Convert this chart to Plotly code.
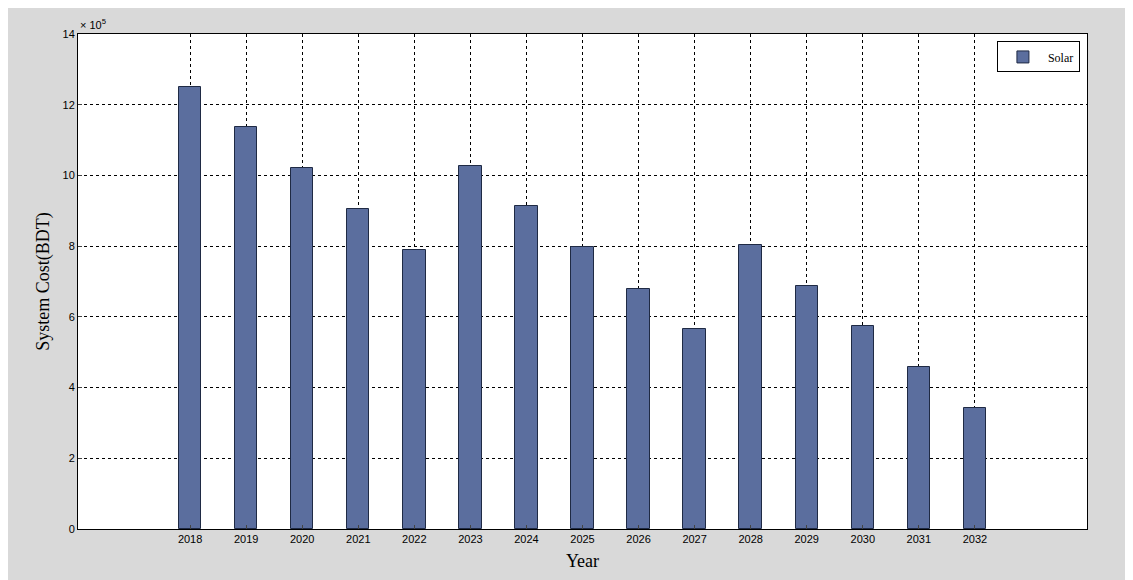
import plotly.graph_objects as go

years = list(range(2018, 2033))
solar_cost = [12.5, 11.37, 10.2, 9.05, 7.9, 10.28, 9.13, 7.98, 6.8, 5.65, 8.03, 6.88, 5.73, 4.58, 3.41]  # x 10^5 BDT

fig = go.Figure()
fig.add_trace(go.Bar(x=years, y=[v * 1e5 for v in solar_cost], name='Solar', width=0.4,
                     marker=dict(color='#5b6e9e', line=dict(color='#1f2a44', width=1))))

fig.update_layout(
    width=1133, height=580,
    paper_bgcolor='#d9d9d9', plot_bgcolor='white',
    margin=dict(l=70, r=54, t=26, b=59),
    font=dict(family='Liberation Sans, Arial', size=11, color='black'),
    showlegend=True,
    legend=dict(x=0.993, y=0.985, xanchor='right', yanchor='top', bgcolor='white',
                bordercolor='black', borderwidth=1, font=dict(family='Liberation Serif', size=12),
                itemwidth=40),
    bargap=0,
)
fig.update_xaxes(range=[2016, 2034], tickmode='array', tickvals=years, ticktext=[str(y) for y in years],
                 showgrid=True, gridcolor='black', griddash='dot', gridwidth=1,
                 showline=True, linecolor='black', mirror=True, ticks='inside', ticklen=4,
                 title=dict(text='Year', font=dict(family='Liberation Serif', size=18), standoff=10))
fig.update_yaxes(range=[0, 14e5], tickvals=[i * 2e5 for i in range(8)], ticktext=[str(i * 2) for i in range(8)],
                 showgrid=True, gridcolor='black', griddash='dot', gridwidth=1, zeroline=False,
                 showline=True, linecolor='black', mirror=True, ticks='inside', ticklen=4,
                 title=dict(text='System Cost(BDT)', font=dict(family='Liberation Serif', size=18), standoff=8))
fig.add_annotation(x=0, y=1, xref='paper', yref='paper', xanchor='left', yanchor='bottom',
                   text='× 10<sup>5</sup>', showarrow=False, font=dict(size=11), yshift=1)

fig.write_html('out.html')
